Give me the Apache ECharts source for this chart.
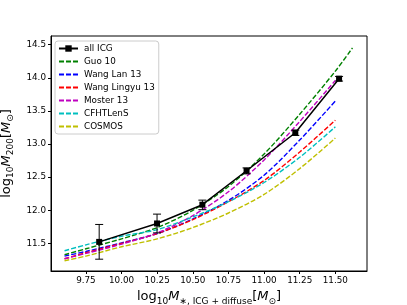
<!DOCTYPE html>
<html><head><meta charset="utf-8">
<script src="https://cdn.jsdelivr.net/npm/echarts@6/dist/echarts.min.js"></script>
<style>html,body{margin:0;padding:0;background:#fff}#c{width:407px;height:305px}</style>
</head><body><div id="c"></div>
<script>
// ---- data ----
const modelX = [9.6, 9.75, 10.0, 10.25, 10.5, 10.75, 11.0, 11.25, 11.5];
const guoX = [9.6, 9.75, 10.0, 10.25, 10.5, 10.75, 11.0, 11.25, 11.5, 11.62];
const guo10 = [11.33, 11.42, 11.57, 11.74, 12.0, 12.36, 12.85, 13.45, 14.10, 14.45];
const wangLan13 = [11.31, 11.38, 11.51, 11.65, 11.87, 12.15, 12.53, 13.06, 13.65];
const wangLingyu13 = [11.27, 11.36, 11.50, 11.65, 11.86, 12.13, 12.45, 12.88, 13.36];
const moster13 = [11.27, 11.35, 11.49, 11.66, 11.92, 12.28, 12.76, 13.34, 13.96];
const cfhtlens = [11.39, 11.48, 11.61, 11.71, 11.90, 12.13, 12.42, 12.80, 13.26];
const cosmos = [11.24, 11.31, 11.45, 11.57, 11.74, 11.96, 12.24, 12.63, 13.09];
const icgX = [9.843, 10.249, 10.567, 10.877, 11.219, 11.526];
const icgY = [11.524, 11.802, 12.085, 12.597, 13.171, 13.986];
const icgLow = [11.263, 11.66, 12.01, 12.55, 13.13, 13.95];
const icgHigh = [11.787, 11.943, 12.154, 12.64, 13.21, 14.02];
const xTicks = [9.75, 10.0, 10.25, 10.5, 10.75, 11.0, 11.25, 11.5];
const yTicks = [11.5, 12.0, 12.5, 13.0, 13.5, 14.0, 14.5];
const seriesNames = ['all ICG', 'Guo 10', 'Wang Lan 13', 'Wang Lingyu 13', 'Moster 13', 'CFHTLenS', 'COSMOS'];

const pair = (xs, ys) => ys.map((y, i) => [xs[i], y]);
const FONT = 'DejaVu Sans';

const dashed = (name, xs, ys, color) => ({
  name, type: 'line', data: pair(xs, ys), symbol: 'none', smooth: 0.3,
  lineStyle: { color, width: 1.4, type: [5, 2] }, itemStyle: { color }, z: 2
});

const nameRich = {
  n: { fontFamily: FONT, fontSize: 13, color: '#000', lineHeight: 18, verticalAlign: 'middle' },
  i: { fontFamily: FONT, fontSize: 13, fontStyle: 'italic', color: '#000', lineHeight: 18, verticalAlign: 'middle' },
  s: { fontFamily: FONT, fontSize: 9, color: '#000', lineHeight: 9, verticalAlign: 'bottom' }
};

const chart = echarts.init(document.getElementById('c'), null, { renderer: 'canvas' });
chart.setOption({
  animation: false,
  backgroundColor: '#fff',
  grid: { left: 51, right: 40, top: 36, bottom: 34, outerBoundsMode: 'none', containLabel: false,
    show: true, borderColor: '#000', borderWidth: 1, backgroundColor: 'transparent' },
  xAxis: {
    type: 'value', min: 9.505, max: 11.722,
    name: '{n|log}{s|10}{i|M}{s|∗, ICG + diffuse}{n|[}{i|M}{s|⊙}{n|]}',
    nameLocation: 'middle', nameGap: 17,
    nameTextStyle: { rich: nameRich },
    axisLine: { show: true, lineStyle: { color: '#000', width: 1 } },
    axisTick: { show: true, length: 3, inside: false, lineStyle: { color: '#000' }, customValues: xTicks },
    axisLabel: { show: true, margin: 5, fontFamily: FONT, fontSize: 8.8, color: '#000', customValues: xTicks, formatter: v => v.toFixed(2) },
    splitLine: { show: false }
  },
  yAxis: {
    type: 'value', min: 11.085, max: 14.63,
    name: '{n|log}{s|10}{i|M}{s|200}{n|[}{i|M}{s|⊙}{n|]}',
    nameLocation: 'middle', nameGap: 30, nameRotate: 90,
    nameTextStyle: { rich: nameRich },
    axisLine: { show: true, lineStyle: { color: '#000', width: 1 } },
    axisTick: { show: true, length: 3, inside: false, lineStyle: { color: '#000' }, customValues: yTicks },
    axisLabel: { show: true, margin: 5, fontFamily: FONT, fontSize: 8.8, color: '#000', customValues: yTicks, formatter: v => v.toFixed(1) },
    splitLine: { show: false }
  },
  legend: {
    data: seriesNames.map((n, i) => i === 0 ? { name: n } : { name: n, itemStyle: { opacity: 0 } }),
    orient: 'vertical', left: 55, top: 41,
    itemWidth: 19, itemHeight: 8, itemGap: 4,
    padding: [3, 4, 3, 3],
    backgroundColor: 'rgba(255,255,255,0.8)', borderColor: '#cccccc', borderWidth: 1, borderRadius: 3,
    textStyle: { fontFamily: FONT, fontSize: 8.8, color: '#000', padding: [0, 0, 0, 1] }
  },
  series: [
    {
      name: 'all ICG', type: 'line', data: pair(icgX, icgY), symbol: 'rect', symbolSize: 6,
      lineStyle: { color: '#000', width: 1.5 }, itemStyle: { color: '#000' }, z: 5
    },
    dashed('Guo 10', guoX, guo10, '#008000'),
    dashed('Wang Lan 13', modelX, wangLan13, '#0000ff'),
    dashed('Wang Lingyu 13', modelX, wangLingyu13, '#ff0000'),
    dashed('Moster 13', modelX, moster13, '#bf00bf'),
    dashed('CFHTLenS', modelX, cfhtlens, '#00bfbf'),
    dashed('COSMOS', modelX, cosmos, '#bfbf00'),
    {
      name: 'errors', type: 'custom', z: 6,
      data: icgX.map((x, i) => [x, icgLow[i], icgHigh[i]]),
      renderItem: (params, api) => {
        const lo = api.coord([api.value(0), api.value(1)]);
        const hi = api.coord([api.value(0), api.value(2)]);
        const cw = 4;
        const st = { stroke: '#000', lineWidth: 1 };
        return { type: 'group', children: [
          { type: 'line', shape: { x1: lo[0], y1: lo[1], x2: hi[0], y2: hi[1] }, style: st },
          { type: 'line', shape: { x1: lo[0] - cw, y1: lo[1], x2: lo[0] + cw, y2: lo[1] }, style: st },
          { type: 'line', shape: { x1: hi[0] - cw, y1: hi[1], x2: hi[0] + cw, y2: hi[1] }, style: st }
        ]};
      }
    }
  ]
});
</script></body></html>
